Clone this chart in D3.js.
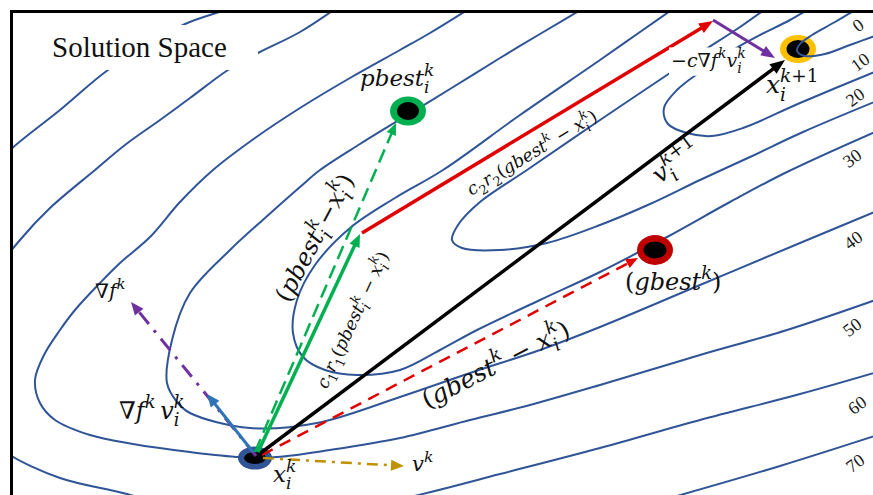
<!DOCTYPE html>
<html>
<head>
<meta charset="utf-8">
<script src="https://cdn.jsdelivr.net/npm/d3@7"></script>
<style>
  html, body { margin: 0; padding: 0; background: #fff; }
  svg { display: block; }
  text { white-space: pre; }
</style>
</head>
<body>
<svg id="chart" width="873" height="495"></svg>
<script>
// ---- Solution-space data (origin at the frame's top-left corner) ----
const contourLevels = [0, 10, 20, 30, 40, 50, 60, 70];

const contour0  = [[854,-7],[824,11],[801,24],[789,33],[786,40],[794,45],[814,43],[839,34],[869,23]];
const contour10 = [[809,-9],[779,9],[749,24],[722,39],[689,61],[666,79],[653,97],[657,113],[676,122],[701,125],[732,117],[789,92],[873,57]];
const contour20 = [[764,-9],[729,16],[689,42],[659,62],[589,109],[516,159],[469,191],[447,214],[441,229],[451,237],[489,239],[536,232],[589,214],[639,193],[689,169],[739,146],[792,121],[873,87]];
const contour30 = [[672,-9],[629,21],[589,49],[509,104],[432,159],[384,187],[339,217],[304,254],[286,289],[282,322],[292,346],[314,359],[346,364],[389,359],[429,339],[466,319],[529,289],[589,261],[656,226],[719,191],[776,161],[873,117]];
const contour40 = [[583,-9],[529,23],[489,47],[439,78],[398,103],[349,133],[309,159],[289,176],[254,207],[219,239],[179,282],[161,329],[156,372],[166,391],[179,402],[239,417],[306,412],[389,386],[462,361],[529,339],[589,316],[689,274],[789,232],[873,197]];
const contour50 = [[469,-9],[419,22],[389,39],[339,67],[289,97],[244,127],[202,159],[169,191],[139,226],[109,252],[89,272],[64,299],[49,319],[33,344],[24,369],[29,392],[44,409],[79,424],[122,433],[179,441],[229,446],[266,446],[319,439],[389,427],[459,409],[519,394],[589,374],[689,344],[776,319],[873,286]];
const contour60 = [[334,-9],[289,21],[247,42],[217,59],[179,87],[149,109],[114,134],[84,159],[39,197],[9,229],[-21,269],[-46,339],[-36,409],[-11,435],[-1,444],[49,467],[116,483],[189,504],[289,509],[399,486],[489,463],[589,437],[689,409],[789,383],[873,359]];
const contour70 = [[234,-9],[217,-2],[174,13],[139,34],[97,59],[49,99],[-1,139],[-51,189],[-91,339],[-71,509],[189,559],[489,534],[666,485],[769,455],[873,422]];
const contourPaths = [contour0, contour10, contour20, contour30, contour40, contour50, contour60, contour70];
const levelLabelAt = [[847,14],[849,51],[844,86],[841,147],[842,229],[841,316],[846,394],[844,452]];

// particle positions
const particle     = [244, 447];   // x_i^k
const personalBest = [397, 100];   // pbest_i^k
const globalBest   = [644, 239];   // gbest^k
const nextPosition = [787, 38];    // x_i^{k+1}

// vectors [from, to]
const gradientDir      = [[245,445],[120,291]];   // ∇f^k
const gradientVelocity = [[242,441],[196,383]];   // ∇f^k v_i^k
const velocityNow      = [[252,447],[393,455]];   // v^k
const toGlobalBest     = [[251,444],[627,247]];   // gbest^k − x_i^k
const velocityNext     = [[247,444],[774,49]];    // v_i^{k+1}
const toPersonalBest   = [[244,441],[385,112]];   // pbest_i^k − x_i^k
const cognitiveStep    = [[247,441],[349,223]];   // c1 r1 (pbest − x)
const socialStep       = [[351,222],[702,10]];    // c2 r2 (gbest − x)
const gradientStep     = [[702,9],[764,47]];      // −c ∇f^k v_i^k

// text annotations
const plainLabels = [
  {tex: "pbest_{i}^{k}",            at: [349, 75]},
  {tex: "(gbest^{k})",              at: [614, 279]},
  {tex: "x_{i}^{k+1}",              at: [755, 82]},
  {tex: "x_{i}^{k}",                at: [262, 471]},
  {tex: "−c∇f^{k}v_{i}^{k}",        at: [660, 56], boxed: true},
  {tex: "∇f^{k}\u2009v_{i}^{k}",    at: [108, 408]},
  {tex: "∇f^{k}",                   at: [84, 287]},
  {tex: "v^{k}",                    at: [401, 460]}
];
const plainSizes = [23, 24, 25, 23, 19, 24, 20, 21];

const rotatedLabels = [
  {tex: "(pbest_{i}^{k}−x_{i}^{k})",             at: [304, 227], angle: -62},
  {tex: "c_{1}r_{1}(pbest_{i}^{k} − x_{i}^{k})", at: [342, 309], angle: -65},
  {tex: "c_{2}r_{2}(gbest^{k} − x_{i}^{k})",     at: [521, 142], angle: -31},
  {tex: "v_{i}^{k+1}",                           at: [665, 151], angle: -37},
  {tex: "(gbest^{k} − x_{i}^{k})",               at: [485, 354], angle: -27}
];
const rotatedSizes = [24, 17.5, 17.5, 25, 25];

// ---- scales ----
const svg = d3.select("#chart");
const x = d3.scaleLinear().domain([0, 862]).range([11, 873]);
const y = d3.scaleLinear().domain([0, 484]).range([11, 495]);

const MATH = "'DejaVu Serif', 'Liberation Serif', serif";
const SERIF = "'Liberation Serif', 'Times New Roman', serif";

svg.append("rect").attr("width", 873).attr("height", 495).attr("fill", "#fff");

svg.append("defs").append("clipPath").attr("id", "frameClip")
  .append("rect").attr("x", x(0)).attr("y", y(0)).attr("width", 870).attr("height", 490);

// ---- contour lines ----
const line = d3.line().x(d => x(d[0])).y(d => y(d[1])).curve(d3.curveCatmullRom.alpha(0.5));
const contourG = svg.append("g").attr("clip-path", "url(#frameClip)");
contourG.selectAll("path.contour")
  .data(contourPaths.slice(1))
  .join("path")
  .attr("class", "contour")
  .attr("d", line)
  .attr("fill", "none")
  .attr("stroke", "#2F5597")
  .attr("stroke-width", 2);

// title box covers the lines behind it
svg.append("rect").attr("x", x(19)).attr("y", y(14)).attr("width", 228).attr("height", 45).attr("fill", "#fff");
svg.append("text").attr("x", x(41)).attr("y", y(46))
  .attr("font-family", SERIF).attr("font-size", 29).attr("fill", "#111")
  .text("Solution Space");

// contour level labels
svg.selectAll("text.level")
  .data(contourLevels)
  .join("text")
  .attr("class", "level")
  .attr("transform", (d, i) => `translate(${x(levelLabelAt[i][0])},${y(levelLabelAt[i][1])}) rotate(-36)`)
  .attr("text-anchor", "middle")
  .attr("dy", "0.35em")
  .attr("font-family", SERIF).attr("font-size", 18).attr("fill", "#1a1a1a")
  .text(d => d);

// ---- particle markers ----
function marker(p, ring, rx, ry, irx, iry) {
  svg.append("ellipse").attr("cx", x(p[0])).attr("cy", y(p[1])).attr("rx", rx).attr("ry", ry).attr("fill", ring);
  svg.append("ellipse").attr("cx", x(p[0])).attr("cy", y(p[1])).attr("rx", irx).attr("ry", iry).attr("fill", "#000");
}
marker(personalBest, "#00B050", 18, 14.5, 11, 9);
marker(globalBest, "#C00000", 18, 15, 11.5, 8.5);
marker(nextPosition, "#FFC000", 18, 14, 11.5, 9);
marker(particle, "#2F5597", 17, 11.5, 11, 6);

// innermost level sits on top of the new-position marker
svg.append("path").attr("clip-path", "url(#frameClip)")
  .attr("d", line(contour0)).attr("fill", "none")
  .attr("stroke", "#2F5597").attr("stroke-width", 2);

// ---- vectors ----
function arrow(v, color, width, headLen, headW, dash) {
  const x0 = x(v[0][0]), y0 = y(v[0][1]), x1 = x(v[1][0]), y1 = y(v[1][1]);
  const L = Math.hypot(x1 - x0, y1 - y0), ux = (x1 - x0) / L, uy = (y1 - y0) / L;
  const bx = x1 - ux * headLen, by = y1 - uy * headLen;
  const ln = svg.append("line")
    .attr("x1", x0).attr("y1", y0)
    .attr("x2", bx + ux * 1.5).attr("y2", by + uy * 1.5)
    .attr("stroke", color).attr("stroke-width", width);
  if (dash) ln.attr("stroke-dasharray", dash);
  svg.append("path")
    .attr("d", `M${x1},${y1}L${bx - uy * headW / 2},${by + ux * headW / 2}L${bx + uy * headW / 2},${by - ux * headW / 2}Z`)
    .attr("fill", color);
}
arrow(gradientDir, "#7030A0", 3, 13, 11, "15 8 3 8");
arrow(velocityNow, "#BF9000", 2.5, 13, 11, "11 6 3 6");
arrow(toGlobalBest, "#E00000", 2.5, 12, 10, "12 8");
arrow(velocityNext, "#000000", 3.5, 15, 12);
arrow(toPersonalBest, "#00B050", 2.5, 12, 10, "14 7");
arrow(cognitiveStep, "#00B050", 3.5, 13, 11);
arrow(gradientVelocity, "#2E75B6", 3, 13, 11);
arrow(socialStep, "#E00000", 3.5, 14, 11);
arrow(gradientStep, "#7030A0", 3, 14, 11);

// ---- math text ----
function parseMath(str) {
  const segs = [];
  let buf = "", i = 0;
  const flush = () => { if (buf) { segs.push({text: buf, level: "base"}); buf = ""; } };
  while (i < str.length) {
    const ch = str[i];
    if ((ch === "_" || ch === "^") && str[i + 1] === "{") {
      flush();
      const end = str.indexOf("}", i);
      const level = ch === "_" ? "sub" : "sup";
      const prev = segs[segs.length - 1];
      segs.push({text: str.slice(i + 2, end), level, stack: !!(prev && prev.level === "sub" && level === "sup")});
      i = end + 1;
    } else { buf += ch; i++; }
  }
  flush();
  return segs;
}

function renderMath(textSel, str, size) {
  const shift = {base: 0, sub: 0.3 * size, sup: -0.45 * size};
  const fs = {base: size, sub: 0.74 * size, sup: 0.74 * size};
  let cur = 0, lastSub = [];
  parseMath(str).forEach(seg => {
    const runs = seg.text.match(/[A-Za-z]+|[^A-Za-z]+/g);
    const nodes = [];
    runs.forEach((run, k) => {
      const t = textSel.append("tspan").text(run)
        .attr("font-size", fs[seg.level])
        .attr("font-style", /[A-Za-z]/.test(run) ? "italic" : "normal");
      if (k === 0) {
        const dy = shift[seg.level] - cur;
        if (dy) t.attr("dy", dy);
        cur = shift[seg.level];
      }
      nodes.push(t.node());
    });
    if (seg.stack) {
      const w = d3.sum(lastSub, n => n.getComputedTextLength());
      d3.select(nodes[0]).attr("dx", -w);
    }
    lastSub = seg.level === "sub" ? nodes : [];
  });
}

plainLabels.forEach((l, i) => {
  const g = svg.append("g");
  const t = g.append("text").attr("x", x(l.at[0])).attr("y", y(l.at[1]))
    .attr("font-family", MATH).attr("fill", "#111");
  renderMath(t, l.tex, plainSizes[i]);
  if (l.boxed) {
    const b = t.node().getBBox();
    g.insert("rect", "text").attr("x", b.x - 2).attr("y", b.y + 2)
      .attr("width", b.width + 4).attr("height", b.height - 2).attr("fill", "#fff");
  }
});

rotatedLabels.forEach((l, i) => {
  const s = rotatedSizes[i];
  const g = svg.append("g").attr("transform", `translate(${x(l.at[0])},${y(l.at[1])}) rotate(${l.angle})`);
  const t = g.append("text").attr("x", 0).attr("y", 0.32 * s)
    .attr("text-anchor", "middle")
    .attr("font-family", MATH).attr("fill", "#111");
  renderMath(t, l.tex, s);
});

// ---- frame (top and left edges of the solution space) ----
svg.append("rect").attr("x", x(0) + 0.5).attr("y", y(0) + 0.5)
  .attr("width", 900).attr("height", 600)
  .attr("fill", "none").attr("stroke", "#000").attr("stroke-width", 3);
</script>
</body>
</html>
